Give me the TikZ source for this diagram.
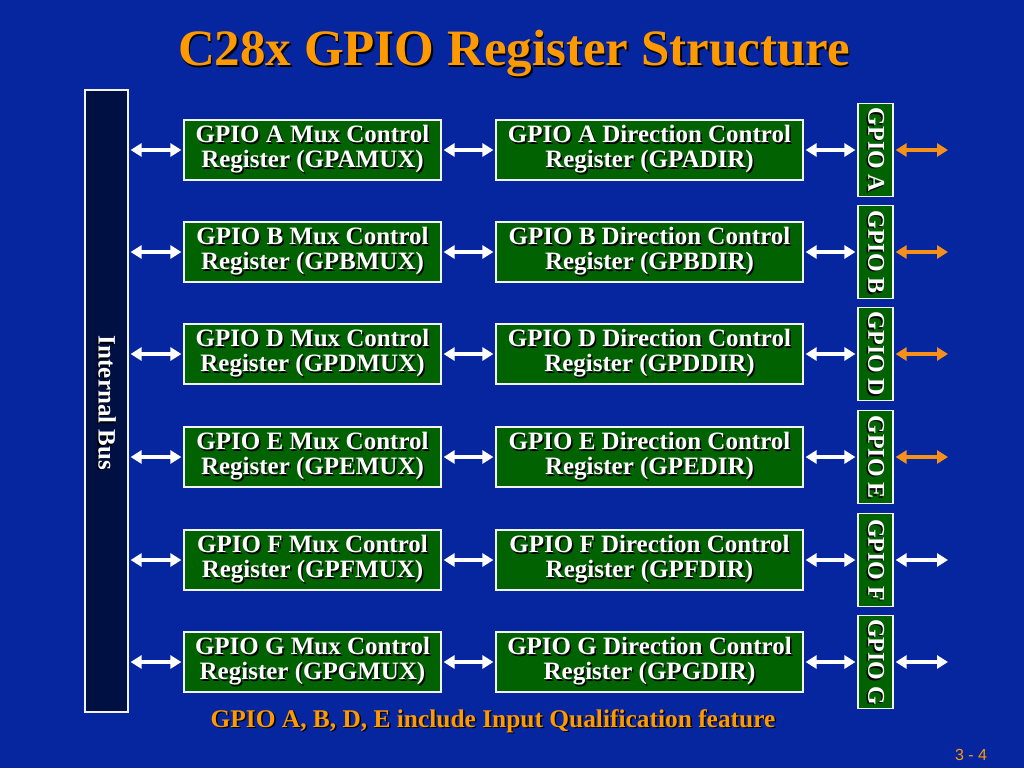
\documentclass[tikz,border=0pt]{standalone}
\usepackage{fontspec}
\setmainfont{Liberation Serif}
\newfontfamily\arialfont{Liberation Sans}
\usetikzlibrary{arrows.meta}
\definecolor{bgblue}{RGB}{6,38,160}
\definecolor{boxgreen}{RGB}{0,98,0}
\definecolor{busnavy}{RGB}{0,16,66}
\definecolor{titleorange}{RGB}{255,153,0}
\definecolor{arrorange}{RGB}{245,145,25}
\newcommand\shd[1]{\rlap{\kern1.5pt\raisebox{-1.5pt}{\textcolor{black}{#1}}}#1}
\newcommand\regtxt[2]{\shd{#1}\\\shd{#2}}
\newcommand\vshd[1]{\rotatebox{-90}{\shd{#1}}}
\tikzset{
  reg/.style={draw=white!90!gray, line width=1.2pt, fill=boxgreen, text=white,
    font=\bfseries\fontsize{25}{25}\selectfont, align=center, inner sep=0pt,
    minimum height=60pt},
  muxbox/.style={reg, minimum width=257pt},
  dirbox/.style={reg, minimum width=307pt},
  portbox/.style={draw=white!90!gray, line width=1.2pt, fill=boxgreen, text=white,
    font=\bfseries\fontsize{24}{24}\selectfont, inner sep=0pt,
    minimum width=35pt, minimum height=93pt},
  warr/.style={draw=white, line width=4pt,
    {Triangle[width=13pt,length=11pt]}-{Triangle[width=13pt,length=11pt]},
    shorten <=2pt, shorten >=2pt},
  oarr/.style={warr, draw=arrorange}
}
\begin{document}
\begin{tikzpicture}[x=1pt,y=-1pt]
\fill[bgblue] (0,0) rectangle (1024,768);
\useasboundingbox (0,0) rectangle (1024,768);

\node[anchor=base, text=titleorange, font=\bfseries\fontsize{51}{51}\selectfont]
  (title) at (514,66) {\shd{C28x GPIO Register Structure}};

\node[draw=white!90!gray, line width=1.2pt, fill=busnavy, minimum width=43pt,
  minimum height=622pt, inner sep=0pt] (bus) at (106.5,401) {};
\node[text=white, font=\bfseries\fontsize{25}{25}\selectfont, inner sep=0pt]
  (buslbl) at (106.5,403) {\vshd{Internal Bus}};

\foreach \r/\y in {A/150,B/252,D/354,E/457,F/560,G/662}{
  \node[muxbox] (mux\r) at (312.5,\y)
    {\regtxt{GPIO \r\ Mux Control}{Register (GP\r MUX)}};
  \node[dirbox] (dir\r) at (649.5,\y)
    {\regtxt{GPIO \r\ Direction Control}{Register (GP\r DIR)}};
  \node[portbox] (port\r) at (875.5,\y) {\vshd{GPIO \r}};
  \coordinate (pin\r) at (950,\y);
  \draw[warr] (bus.east |- mux\r.west) -- (mux\r.west);
  \draw[warr] (mux\r.east) -- (dir\r.west);
  \draw[warr] (dir\r.east) -- (port\r.west);
}
\foreach \r in {A,B,D,E}{
  \draw[oarr] (port\r.east) -- (pin\r);
}
\foreach \r in {F,G}{
  \draw[warr] (port\r.east) -- (pin\r);
}

\node[anchor=base, text=titleorange, font=\bfseries\fontsize{25.4}{25.4}\selectfont]
  (note) at (493,727) {\shd{GPIO A, B, D, E include Input Qualification feature}};
\node[anchor=base, text=titleorange, font=\arialfont\fontsize{16}{16}\selectfont]
  (pg) at (971,760) {3 - 4};
\end{tikzpicture}
\end{document}
